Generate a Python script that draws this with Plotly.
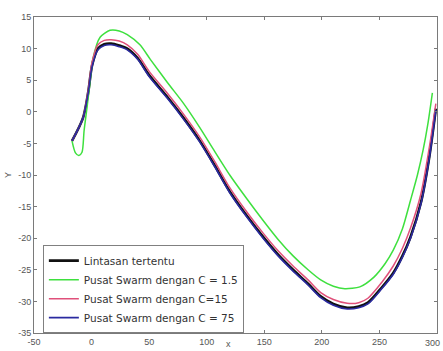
import plotly.graph_objects as go

# Lintasan tertentu (reference path)
x_ref = [-17, -7.5, -3, 0.5, 5.5, 11, 17, 24, 31, 40, 50, 66, 80, 94, 107, 120, 135, 149, 162, 175, 188, 199, 210, 222, 232, 240, 252, 262, 270, 277, 286, 293, 299]
y_ref = [-4.6, -1.0, 3.0, 7.4, 10.0, 10.7, 10.8, 10.5, 10.0, 8.5, 5.8, 2.3, -1.0, -4.6, -8.5, -12.6, -16.5, -19.8, -22.6, -25.0, -27.2, -29.2, -30.4, -31.0, -30.8, -30.2, -27.8, -25.5, -22.8, -19.8, -14.4, -7.5, 0.5]

# Pusat Swarm dengan C = 1.5
x_c15 = [-17, -14, -11, -8.3, -6.5, -4, -1.3, 1.3, 7.4, 16, 24, 31, 42, 51, 66, 80, 94, 106, 120, 135, 149, 162, 175, 188, 199, 210, 220, 233, 245, 255, 262, 270, 277, 283, 288, 292, 296]
y_c15 = [-4.6, -6.5, -6.9, -6.4, -3.0, 0.6, 4.7, 8.5, 11.8, 12.9, 12.8, 12.2, 10.6, 8.3, 4.6, 1.3, -2.5, -6.0, -10.0, -13.8, -17.2, -20.2, -22.8, -25.0, -26.6, -27.6, -28.0, -27.7, -26.2, -24.0, -21.9, -18.5, -14.0, -10.0, -6.0, -2.0, 3.0]

# Pusat Swarm dengan C=15
y_c15b = [-4.6, -1.0, 3.3, 7.9, 10.6, 11.3, 11.4, 11.2, 10.6, 9.1, 6.4, 2.9, -0.4, -4.0, -7.9, -12.0, -15.9, -19.2, -22.0, -24.4, -26.6, -28.6, -29.7, -30.3, -30.2, -29.5, -27.0, -24.4, -21.6, -18.4, -13.0, -6.0, 1.3]

# Pusat Swarm dengan C = 75
y_c75 = [-4.6, -1.0, 2.9, 7.2, 9.8, 10.5, 10.6, 10.3, 9.8, 8.3, 5.6, 2.1, -1.2, -4.8, -8.7, -12.8, -16.7, -20.0, -22.8, -25.2, -27.4, -29.4, -30.6, -31.2, -31.0, -30.4, -28.0, -25.7, -23.0, -20.0, -14.6, -7.7, 0.3]

x_ticks = [-50, 0, 50, 100, 150, 200, 250, 300]
y_ticks = [-35, -30, -25, -20, -15, -10, -5, 0, 5, 10, 15]

fig = go.Figure()
fig.add_trace(go.Scatter(x=x_ref, y=y_ref, mode="lines", name="Lintasan tertentu",
                         line=dict(color="#111111", width=2.6, shape="spline", smoothing=0.8)))
fig.add_trace(go.Scatter(x=x_c15, y=y_c15, mode="lines", name="Pusat Swarm dengan C = 1.5",
                         line=dict(color="#3ee03e", width=1.5, shape="spline", smoothing=0.7)))
fig.add_trace(go.Scatter(x=x_ref, y=y_c15b, mode="lines", name="Pusat Swarm dengan C=15",
                         line=dict(color="#e0507a", width=1.5, shape="spline", smoothing=0.8)))
fig.add_trace(go.Scatter(x=x_ref, y=y_c75, mode="lines", name="Pusat Swarm dengan C = 75",
                         line=dict(color="#2a2aa0", width=1.6, shape="spline", smoothing=0.8)))

tick_font = dict(family="Arial", size=9, color="#555555")
axis_common = dict(showgrid=False, zeroline=False, showline=True, linecolor="#7a7a7a", linewidth=1,
                   mirror="allticks", ticks="inside", ticklen=3, tickcolor="#7a7a7a",
                   tickfont=tick_font, automargin=False)
fig.update_xaxes(range=[-50, 300], tickvals=x_ticks, ticktext=[str(v) for v in x_ticks], **axis_common)
fig.update_yaxes(range=[-35, 15], tickvals=y_ticks, ticktext=[str(v) for v in y_ticks], **axis_common)

fig.update_layout(
    width=443, height=351,
    margin=dict(l=34, r=6, t=17, b=18),
    plot_bgcolor="white", paper_bgcolor="white",
    font=dict(family="Arial", size=9, color="#333333"),
    legend=dict(x=0.022, y=0.278, xanchor="left", yanchor="top",
                bgcolor="white", bordercolor="#808080", borderwidth=1,
                font=dict(family="DejaVu Sans", size=10.5, color="#333333"),
                tracegroupgap=0, itemwidth=30),
    showlegend=True,
    annotations=[
        dict(text="x", xref="paper", yref="paper", x=0.482, y=0, yshift=-4,
             showarrow=False, font=tick_font, xanchor="center", yanchor="top"),
        dict(text="300", xref="x", yref="paper", x=300, y=0, yshift=-3, xshift=5,
             showarrow=False, font=tick_font, xanchor="right", yanchor="top"),
        dict(text="Y", xref="paper", yref="paper", x=0, xshift=-26, y=0.5,
             showarrow=False, font=tick_font, textangle=-90, xanchor="center", yanchor="middle"),
    ],
)

fig.write_html("out.html", config={"displayModeBar": False},
               post_script="document.body.style.margin='0';document.body.style.overflow='hidden';")
